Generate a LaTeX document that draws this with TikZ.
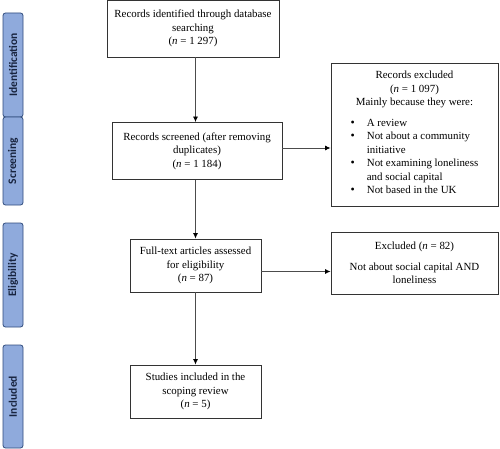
\documentclass[tikz,border=0pt]{standalone}
\usepackage{fontspec}
\setmainfont{Liberation Serif}
\newfontfamily\barfont{Carlito}
\usetikzlibrary{arrows.meta}
\definecolor{stagefill}{HTML}{8FAADC}
\definecolor{stageline}{HTML}{2F4B7C}
\definecolor{stagetext}{HTML}{18243F}

\begin{document}
\begin{tikzpicture}[x=1pt,y=-1pt,
  box/.style={draw=black!80,line width=0.9pt,align=center,inner sep=0pt,
    font=\fontsize{10.9}{13.5}\selectfont},
  stage/.style={draw=stageline,fill=stagefill,rounded corners=2.5pt,line width=0.8pt,
    minimum height=20pt,inner sep=0pt,rotate=90,text=stagetext,
    font=\barfont\bfseries\fontsize{11.5}{12}\selectfont},
  arr/.style={-{Latex[length=5.5pt,width=5pt,black]},draw=black!70,line width=0.8pt}]
\useasboundingbox (0,0) rectangle (500,449);

\node[stage,minimum width=104pt] (sid) at (13,65) {Identification};
\node[stage,minimum width=88pt] (ssc) at (13,161) {Screening};
\node[stage,minimum width=104pt] (sel) at (13,275) {Eligibility};
\node[stage,minimum width=103pt] (sin) at (13,396.5) {Included};

\node[box,minimum width=172pt,minimum height=57pt] (ident) at (193,28.5)
  {Records identified through database\\searching\\(\textit{n} = 1 297)};
\node[box,minimum width=170pt,minimum height=57pt] (screen) at (197,151)
  {Records screened (after removing\\duplicates)\\(\textit{n} = 1 184)};
\node[box,minimum width=167pt,minimum height=143pt] (excl) at (414.5,134.5)
  {Records excluded\\(\textit{n} = 1 097)\\Mainly because they were:\\[8pt]
   \begin{tabular}{@{}l@{\hspace{12pt}}l@{}}
   \large\textbullet & A review\\
   \large\textbullet & Not about a community\\
                     & initiative\\
   \large\textbullet & Not examining loneliness\\
                     & and social capital\\
   \large\textbullet & Not based in the UK
   \end{tabular}};
\node[box,minimum width=131pt,minimum height=53pt] (full) at (195.5,265.5)
  {Full-text articles assessed\\for eligibility\\(\textit{n} = 87)};
\node[box,minimum width=167pt,minimum height=62pt] (exfull) at (414.5,263)
  {Excluded (\textit{n} = 82)\\[7.5pt]Not about social capital AND\\loneliness};
\node[box,minimum width=131pt,minimum height=53pt] (incl) at (195.5,391.5)
  {Studies included in the\\scoping review\\(\textit{n} = 5)};

\draw[arr] (ident.south -| full) -- (screen.north -| full);
\draw[arr] (screen.south -| full) -- (full.north);
\draw[arr] (full) -- (incl);
\draw[arr] ([yshift=3pt]screen.east) -- ([yshift=3pt]screen.east -| excl.west);
\draw[arr] ([yshift=-6pt]full.east) -- ([yshift=-6pt]full.east -| exfull.west);
\end{tikzpicture}
\end{document}
